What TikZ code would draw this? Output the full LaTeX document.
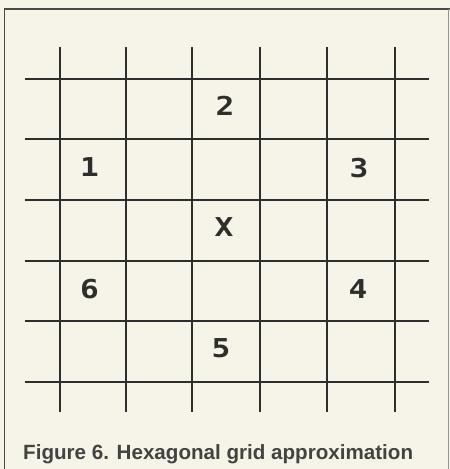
\documentclass[tikz,border=0pt]{standalone}
\usepackage{fontspec}
\setmainfont{Liberation Sans}
\newfontfamily\digitfont{DejaVu Sans Mono}
\definecolor{paper}{HTML}{F6F3E9}
\definecolor{ink}{HTML}{2E2E2C}
\definecolor{framecol}{HTML}{4A4A48}
\tikzset{
  gridline/.style={draw=ink, line width=1.6pt},
  cellnum/.style={text=ink, font=\digitfont\bfseries\fontsize{26}{26}\selectfont, inner sep=0pt, xscale=1.2, anchor=center},
  captiontext/.style={text=ink!90, font=\bfseries\fontsize{20.6}{22}\selectfont, inner sep=0pt, anchor=base west}
}
\begin{document}
\begin{tikzpicture}[x=1pt,y=-1pt]
\useasboundingbox (0,0) rectangle (450,469);
\fill[paper] (0,0) rectangle (450,469);
% frame
\draw[framecol, line width=1.5pt] (4.5,469) -- (4.5,9) -- (450,9);
\draw[framecol!60, line width=1pt] (448,9) -- (448,469);
% vertical grid lines
\foreach \x in {60,126,192,260,327,395}
  \draw[gridline] (\x,47) -- (\x,412);
% horizontal grid lines
\foreach \y in {79,139,200,261,321,382}
  \draw[gridline] (25,\y) -- (429,\y);
% labels
\node[cellnum] (n2) at (225,106) {2};
\node[cellnum] (n1) at (89.5,167) {1};
\node[cellnum] (n3) at (359,168) {3};
\node[cellnum] (nx) at (224,227) {X};
\node[cellnum] (n6) at (89.5,289) {6};
\node[cellnum] (n4) at (358,289) {4};
\node[cellnum] (n5) at (221,348) {5};
% caption
\node[captiontext] (cap) at (23,459) {Figure 6. Hexagonal grid approximation};
\end{tikzpicture}
\end{document}
